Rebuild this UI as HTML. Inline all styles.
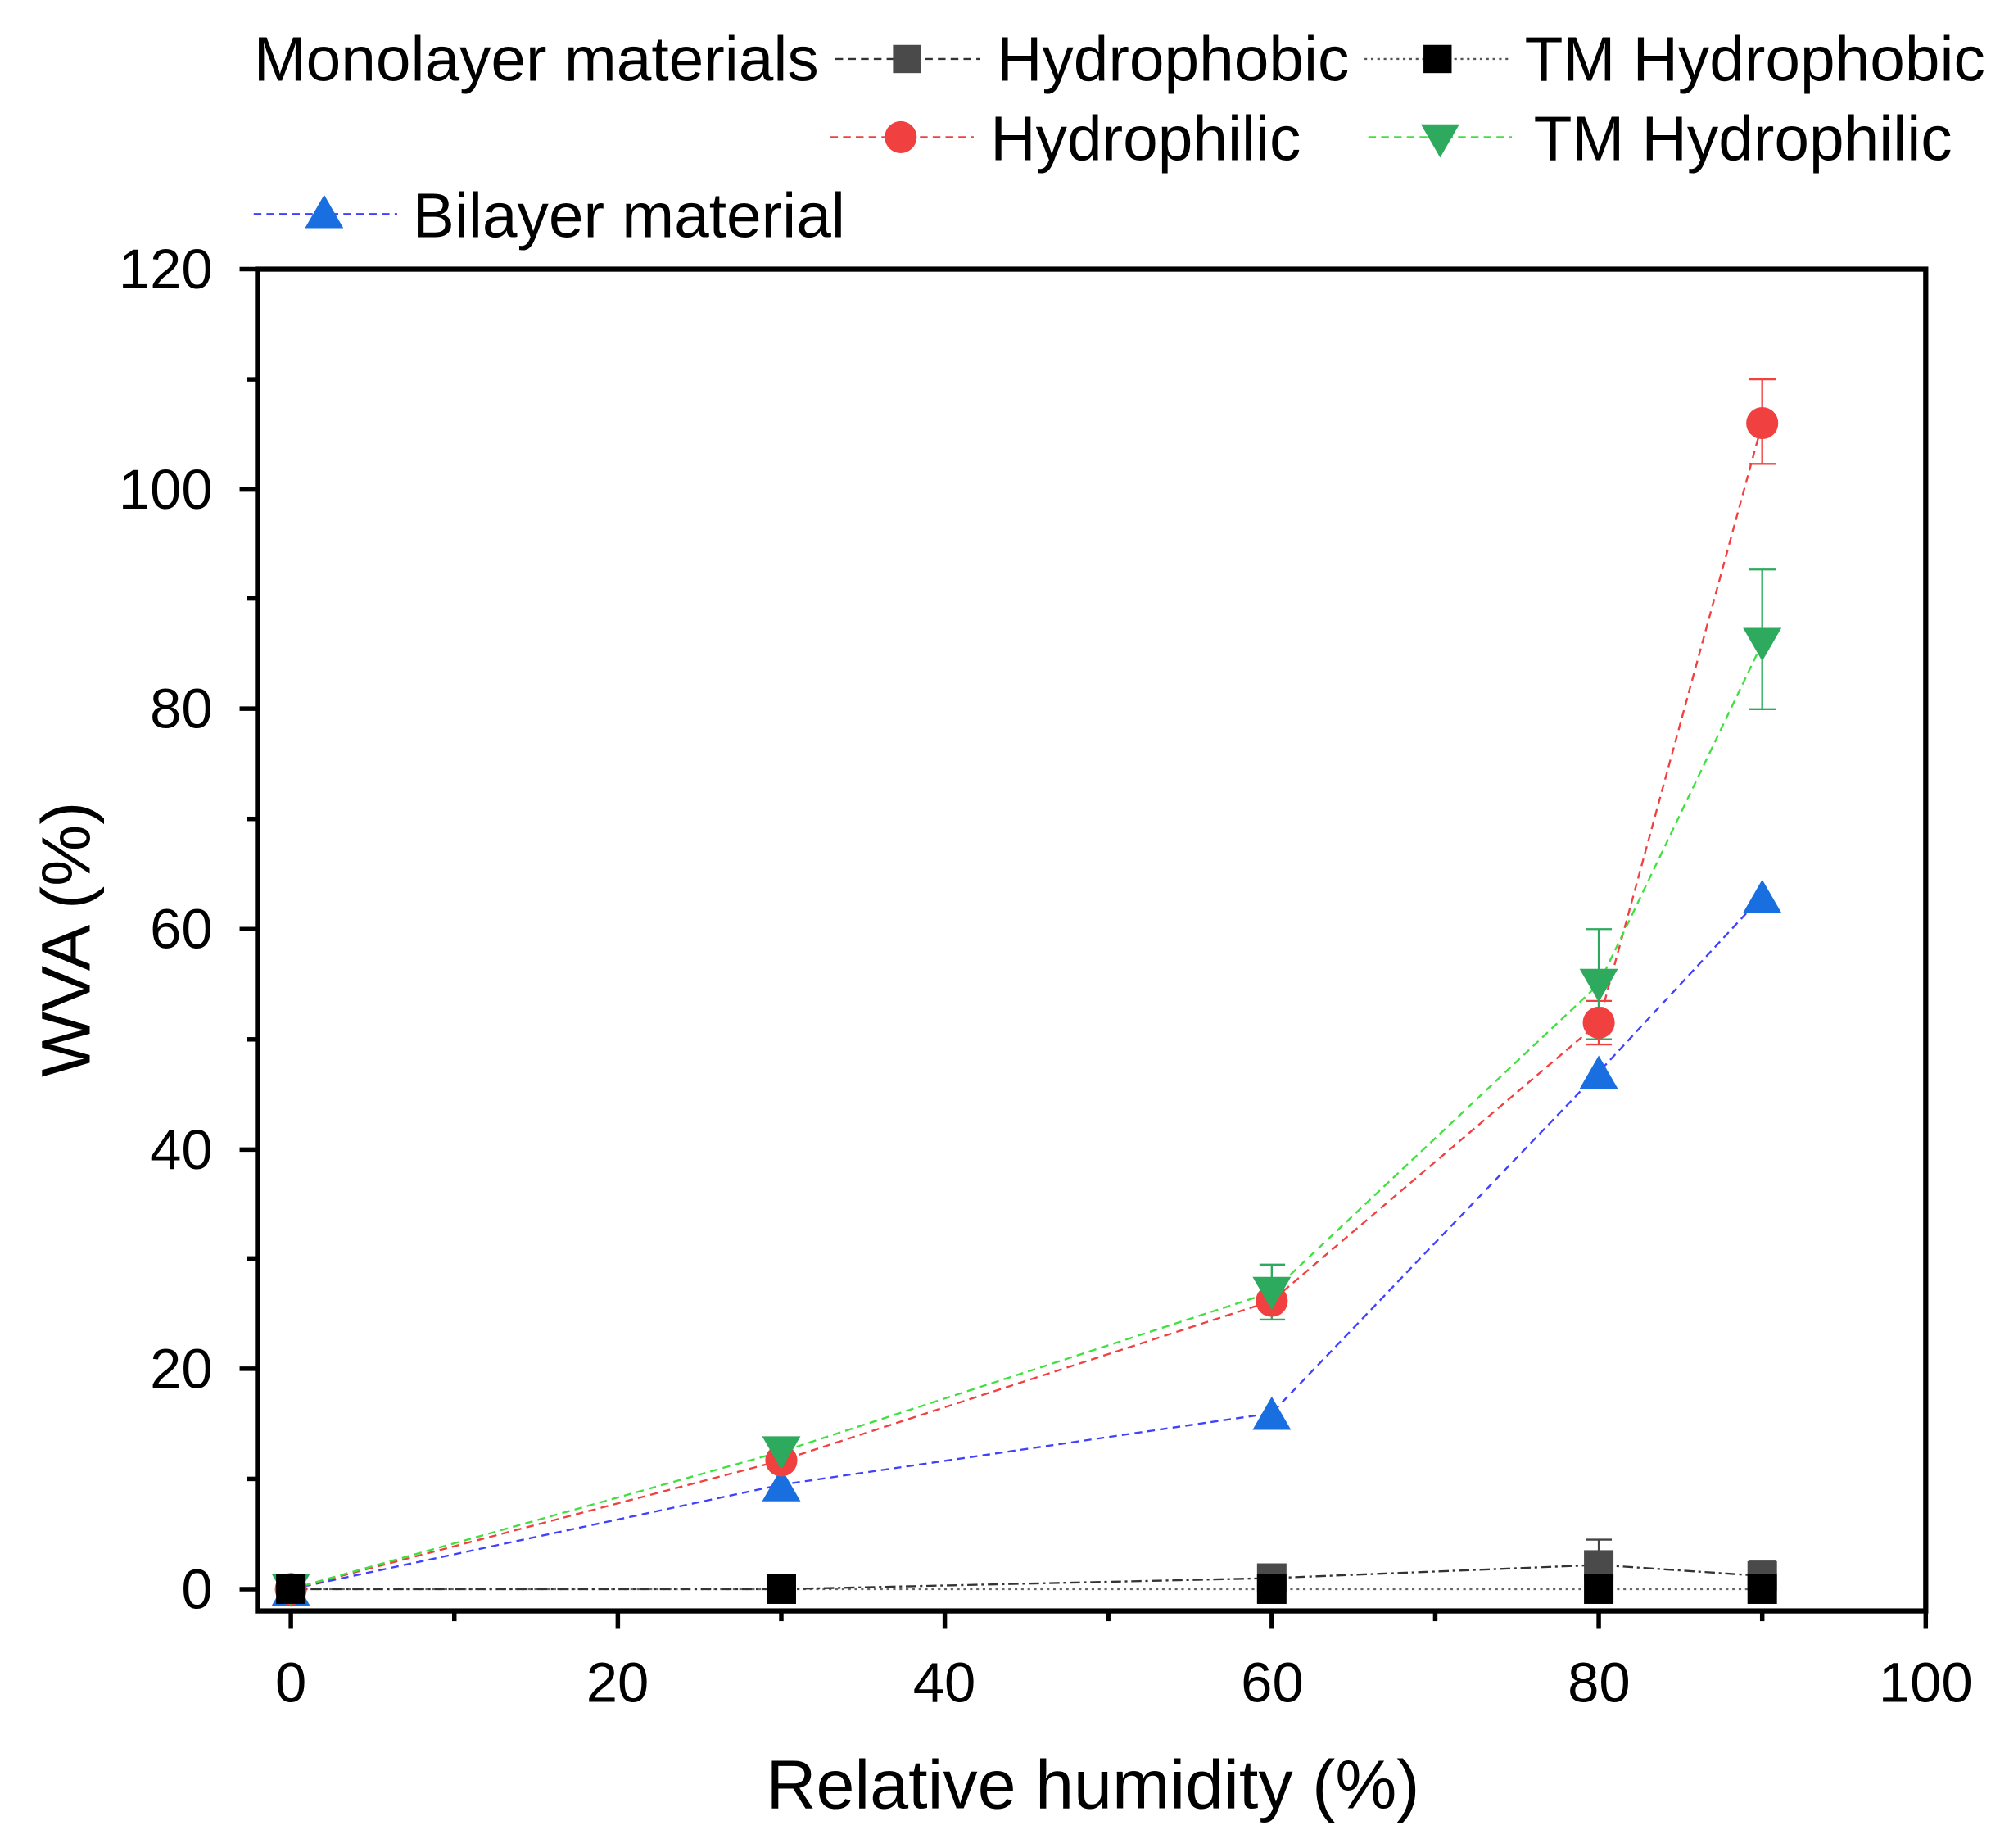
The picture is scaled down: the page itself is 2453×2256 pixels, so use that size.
<!DOCTYPE html>
<html><head><meta charset="utf-8"><style>html,body{margin:0;padding:0;background:#fff}svg{display:block}</style></head>
<body>
<svg width="2453" height="2256" viewBox="0 0 1568 1442" preserveAspectRatio="none" xmlns="http://www.w3.org/2000/svg" font-family="Liberation Sans, Arial, sans-serif">
<rect width="1568" height="1442" fill="#fff"/>
<!-- legend -->
<g font-size="49" fill="#000">
<text x="198" y="63">Monolayer materials</text>
<line x1="652" y1="46" x2="765" y2="46" stroke="#333" stroke-width="1.5" stroke-dasharray="6,4"/>
<rect x="697" y="35" width="22" height="22" fill="#4a4a4a"/>
<text x="778" y="63">Hydrophobic</text>
<line x1="1065" y1="46" x2="1180" y2="46" stroke="#555" stroke-width="1.5" stroke-dasharray="2,3"/>
<rect x="1111" y="35" width="22" height="22" fill="#000"/>
<text x="1190" y="63">TM Hydrophobic</text>
<line x1="648" y1="107" x2="760" y2="107" stroke="#f04040" stroke-width="1.5" stroke-dasharray="6,4"/>
<circle cx="703" cy="107" r="12.5" fill="#f04040"/>
<text x="773" y="125">Hydrophilic</text>
<line x1="1068" y1="107" x2="1180" y2="107" stroke="#40e040" stroke-width="1.5" stroke-dasharray="6,4"/>
<polygon points="1109,97 1139,97 1124,123" fill="#2eaa5e"/>
<text x="1197" y="125">TM Hydrophilic</text>
<line x1="198" y1="167" x2="310" y2="167" stroke="#4040ff" stroke-width="1.5" stroke-dasharray="6,4"/>
<polygon points="238,178 268,178 253,152" fill="#1a6fe0"/>
<text x="322" y="185">Bilayer material</text>
</g>
<!-- axes box -->
<rect x="201" y="210" width="1302" height="1047" fill="none" stroke="#000" stroke-width="4"/>
<g stroke="#000" stroke-width="3.5">
<line x1="187" y1="1240" x2="201" y2="1240"/><line x1="193" y1="1154" x2="201" y2="1154"/>
<line x1="187" y1="1068" x2="201" y2="1068"/><line x1="193" y1="982" x2="201" y2="982"/>
<line x1="187" y1="897" x2="201" y2="897"/><line x1="193" y1="811" x2="201" y2="811"/>
<line x1="187" y1="725" x2="201" y2="725"/><line x1="193" y1="639" x2="201" y2="639"/>
<line x1="187" y1="553" x2="201" y2="553"/><line x1="193" y1="467" x2="201" y2="467"/>
<line x1="187" y1="382" x2="201" y2="382"/><line x1="193" y1="296" x2="201" y2="296"/>
<line x1="187" y1="210" x2="201" y2="210"/>
<line x1="227" y1="1257" x2="227" y2="1271"/><line x1="354.6" y1="1257" x2="354.6" y2="1265"/>
<line x1="482.2" y1="1257" x2="482.2" y2="1271"/><line x1="609.8" y1="1257" x2="609.8" y2="1265"/>
<line x1="737.4" y1="1257" x2="737.4" y2="1271"/><line x1="865" y1="1257" x2="865" y2="1265"/>
<line x1="992.6" y1="1257" x2="992.6" y2="1271"/><line x1="1120.2" y1="1257" x2="1120.2" y2="1265"/>
<line x1="1247.8" y1="1257" x2="1247.8" y2="1271"/><line x1="1375.4" y1="1257" x2="1375.4" y2="1265"/>
<line x1="1503" y1="1257" x2="1503" y2="1271"/>
</g>
<g font-size="44" text-anchor="end" fill="#000">
<text x="166" y="1255">0</text><text x="166" y="1083">20</text><text x="166" y="912">40</text>
<text x="166" y="740">60</text><text x="166" y="568">80</text><text x="166" y="397">100</text><text x="166" y="225">120</text>
</g>
<g font-size="44" text-anchor="middle" fill="#000">
<text x="227" y="1328">0</text><text x="482" y="1328">20</text><text x="737" y="1328">40</text>
<text x="993" y="1328">60</text><text x="1248" y="1328">80</text><text x="1503" y="1328">100</text>
</g>
<text x="853" y="1411" font-size="54" text-anchor="middle">Relative humidity (%)</text>
<text transform="translate(70,733) rotate(-90)" font-size="54" text-anchor="middle">WVA (%)</text>
<!-- series lines -->
<g fill="none" stroke-width="1.5">
<polyline points="227,1240 609.8,1240 992.6,1240 1247.8,1240 1375.4,1240" stroke="#666" stroke-dasharray="2,3"/>
<polyline points="227,1240 609.8,1240 992.6,1231.4 1247.8,1221.1 1375.4,1229.7" stroke="#333" stroke-dasharray="8,3,2,3"/>
<polyline points="227,1240 609.8,1158.5 992.6,1102.7 1247.8,836.6 1375.4,699.3" stroke="#4040ff" stroke-dasharray="6,4"/>
<polyline points="227,1240 609.8,1139.6 992.6,1015.1 1247.8,798 1375.4,330.2" stroke="#f04040" stroke-dasharray="6,4"/>
<polyline points="227,1240 609.8,1132.7 992.6,1008.3 1247.8,768 1375.4,501.9" stroke="#40e040" stroke-dasharray="6,4"/>
</g>
<!-- error bars -->
<g stroke-width="1.5" fill="none">
<path d="M1375.4,362V296M1365,362h21M1365,296h21M1247.8,815V781M1238,815h20M1238,781h20" stroke="#f04040"/>
<path d="M1375.4,553.4V444.4M1365,553.4h21M1365,444.4h21M1247.8,810.9V725M1238,725h20M1238,810.9h20M992.6,1029.7V986.8M983,1029.7h20M983,986.8h20" stroke="#2eaa5e"/>
<path d="M1247.8,1240V1201.4M1238,1201.4h20M1375.4,1240V1218.5M1365,1218.5h21" stroke="#444"/>
</g>
<!-- markers -->
<g>
<rect x="981.1" y="1219.9" width="23" height="23" fill="#4a4a4a"/>
<rect x="1236.3" y="1209.6" width="23" height="23" fill="#4a4a4a"/>
<rect x="1363.9" y="1218.2" width="23" height="23" fill="#4a4a4a"/>
<g fill="#1a6fe0">
<polygon points="212,1253 242,1253 227,1227"/>
<polygon points="594.8,1171.5 624.8,1171.5 609.8,1145.5"/>
<polygon points="977.6,1115.7 1007.6,1115.7 992.6,1089.7"/>
<polygon points="1232.8,849.6 1262.8,849.6 1247.8,823.6"/>
<polygon points="1360.4,712.3 1390.4,712.3 1375.4,686.3"/>
</g>
<g fill="#f04040">
<circle cx="227" cy="1240" r="12.5"/><circle cx="609.8" cy="1139.6" r="12.5"/><circle cx="992.6" cy="1015.1" r="12.5"/>
<circle cx="1247.8" cy="798" r="12.5"/><circle cx="1375.4" cy="330.2" r="12.5"/>
</g>
<g fill="#2eaa5e">
<polygon points="212,1228 242,1228 227,1254"/>
<polygon points="594.8,1120.7 624.8,1120.7 609.8,1146.7"/>
<polygon points="977.6,996.3 1007.6,996.3 992.6,1022.3"/>
<polygon points="1232.8,756 1262.8,756 1247.8,782"/>
<polygon points="1360.4,489.9 1390.4,489.9 1375.4,515.9"/>
</g>
<g fill="#000">
<rect x="215.5" y="1228.5" width="23" height="23"/><rect x="598.3" y="1228.5" width="23" height="23"/>
<rect x="981.1" y="1228.5" width="23" height="23"/><rect x="1236.3" y="1228.5" width="23" height="23"/>
<rect x="1363.9" y="1228.5" width="23" height="23"/>
</g>
</g>
</svg>
</body></html>
